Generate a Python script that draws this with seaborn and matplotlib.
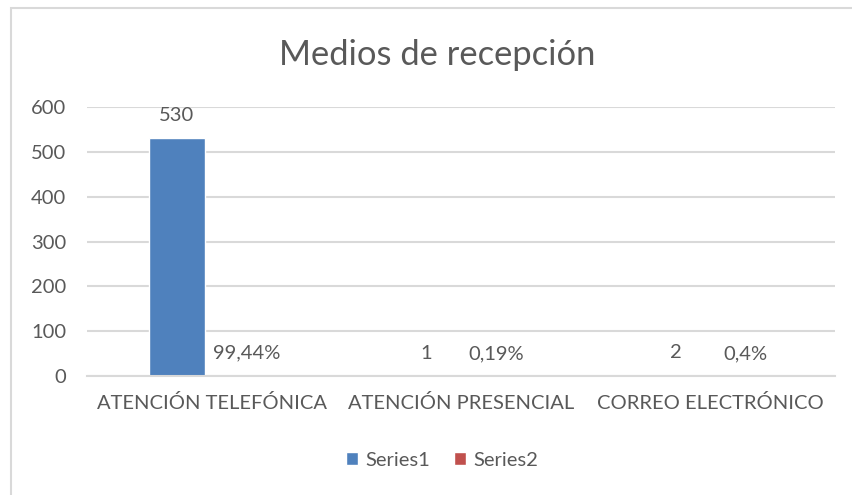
import pandas as pd
import matplotlib.pyplot as plt
import seaborn as sns
from matplotlib.patches import Rectangle

categories = ["ATENCIÓN TELEFÓNICA", "ATENCIÓN PRESENCIAL", "CORREO ELECTRÓNICO"]
series1 = [530, 1, 2]
series2 = [0.9944, 0.0019, 0.004]
series2_labels = ["99,44%", "0,19%", "0,4%"]
series_names = ["Series1", "Series2"]
yticks = [0, 100, 200, 300, 400, 500, 600]

TEXT = "#595959"
GRID = "#D9D9D9"
FS = 14.5

df = pd.DataFrame(
    {
        "Categoria": categories * 2,
        "Valor": series1 + series2,
        "Serie": [series_names[0]] * 3 + [series_names[1]] * 3,
    }
)

sns.set_theme(style="white")
plt.rcParams["font.family"] = ["Lato", "DejaVu Sans"]

fig = plt.figure(figsize=(8.53, 4.95), dpi=100)
ax = fig.add_axes([87 / 853, 1 - 376 / 495, (835 - 87) / 853, (376 - 107) / 495])

sns.barplot(
    data=df,
    x="Categoria",
    y="Valor",
    hue="Serie",
    palette=["#4F81BD", "#C0504D"],
    saturation=1,
    width=0.56,
    gap=0.2,
    ax=ax,
    legend=True,
)

ax.set_ylim(0, 600)
ax.set_yticks(yticks)
ax.yaxis.grid(True, color=GRID, linewidth=1.5)
ax.set_axisbelow(True)
for s in ["top", "right", "left"]:
    ax.spines[s].set_visible(False)
ax.spines["bottom"].set_color(GRID)
ax.spines["bottom"].set_linewidth(1.5)
ax.set_xlabel("")
ax.set_ylabel("")
ax.tick_params(axis="y", length=0, pad=15, labelsize=FS, labelcolor=TEXT)
ax.tick_params(axis="x", length=0, pad=13, labelsize=FS, labelcolor=TEXT)

ax.bar_label(ax.containers[0], padding=10, fontsize=FS, color=TEXT)
ax.bar_label(ax.containers[1], labels=series2_labels, padding=10, fontsize=FS, color=TEXT)

handles, labels = ax.get_legend_handles_labels()
ax.get_legend().remove()
fig.legend(
    handles,
    labels,
    loc="center",
    bbox_to_anchor=(442 / 853, 1 - 460 / 495),
    ncol=2,
    frameon=False,
    fontsize=14.5,
    handlelength=0.6,
    handleheight=0.6,
    handletextpad=0.35,
    columnspacing=1.2,
    labelcolor=TEXT,
)

fig.text(437 / 853, 1 - 55 / 495, "Medios de recepción", ha="center", va="center",
         fontsize=24.8, color=TEXT)

# chart border (only top/left visible in the original crop)
fig.patches.append(
    Rectangle((11 / 853, -0.1), 1.2, 1 - 8 / 495 + 0.1, transform=fig.transFigure,
              fill=False, edgecolor=GRID, linewidth=1.5)
)

fig.savefig("out.png", dpi=100, facecolor="white")
